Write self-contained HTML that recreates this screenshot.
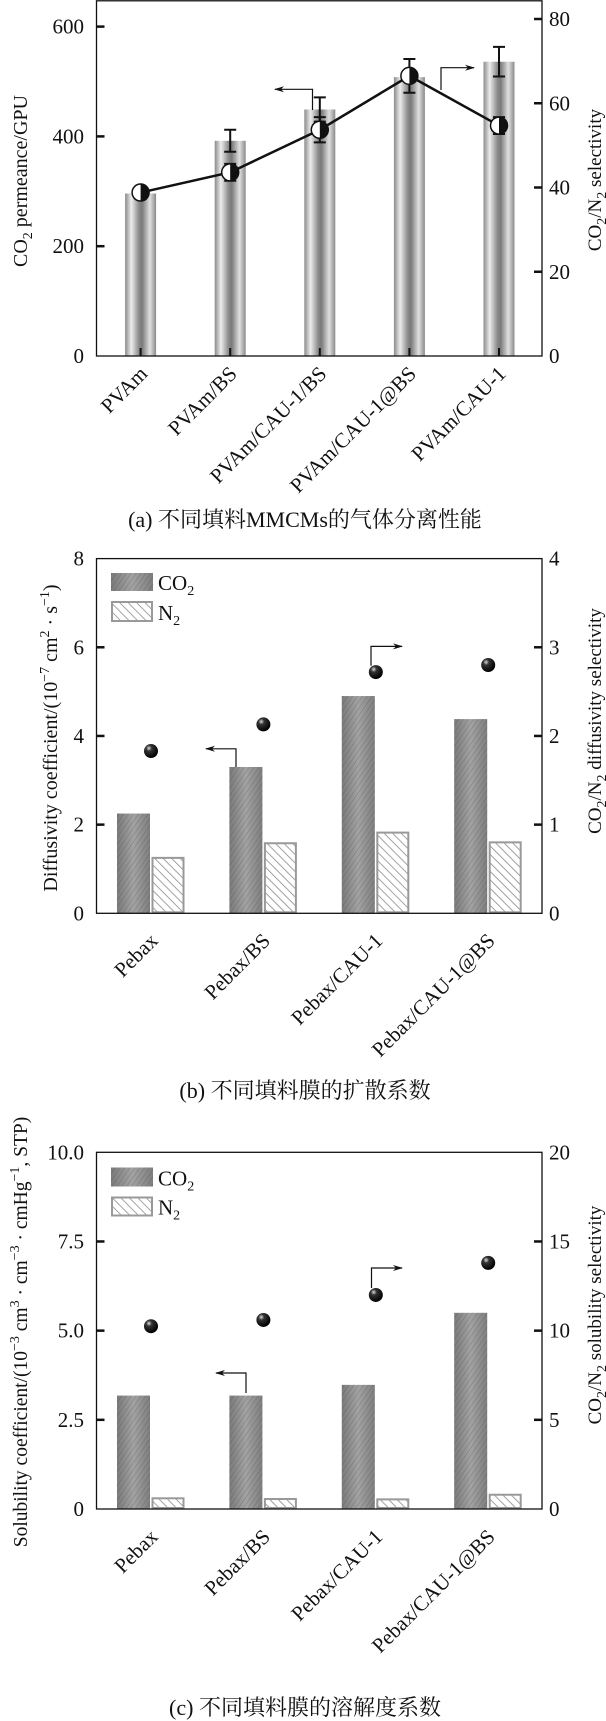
<!DOCTYPE html>
<html><head><meta charset="utf-8"><style>
html,body{margin:0;padding:0;background:#fff}
svg{display:block}
text{font-family:"Liberation Serif","Noto Serif CJK SC",serif;fill:#111}
</style></head><body>
<svg id="fig" width="606" height="1721" viewBox="0 0 606 1721" xmlns="http://www.w3.org/2000/svg">
<defs>
<linearGradient id="cyl" x1="0" x2="1" y1="0" y2="0">
<stop offset="0" stop-color="#8a8a8a"/><stop offset="0.2" stop-color="#ececec"/><stop offset="0.45" stop-color="#8a8a8a"/><stop offset="0.55" stop-color="#7a7a7a"/><stop offset="0.8" stop-color="#e0e0e0"/><stop offset="1" stop-color="#8a8a8a"/>
</linearGradient>
<linearGradient id="co2g" x1="0" x2="1" y1="0" y2="0">
<stop offset="0" stop-color="#7a7a7a"/><stop offset="0.5" stop-color="#a3a3a3"/><stop offset="1" stop-color="#7e7e7e"/>
</linearGradient>
<pattern id="fine" width="4" height="4" patternUnits="userSpaceOnUse" patternTransform="rotate(35)">
<line x1="0" y1="0" x2="0" y2="4" stroke="rgba(60,60,60,0.35)" stroke-width="1"/>
</pattern>
<pattern id="hatch" width="6" height="6" patternUnits="userSpaceOnUse" patternTransform="rotate(-45)">
<rect width="6" height="6" fill="#fff"/>
<line x1="0" y1="0" x2="0" y2="6" stroke="#8a8a8a" stroke-width="1.6"/>
</pattern>
<radialGradient id="ball" cx="0.35" cy="0.3" r="0.7">
<stop offset="0" stop-color="#ddd"/><stop offset="0.3" stop-color="#333"/><stop offset="1" stop-color="#000"/>
</radialGradient>
<marker id="ah" markerWidth="10" markerHeight="8" refX="9" refY="4" orient="auto" markerUnits="userSpaceOnUse">
<path d="M0,1 L10,4 L0,7 L3,4 Z" fill="#111"/>
</marker>
</defs>
</svg>
<script>
// ===== Chart (a) data =====
const catsA = ["PVAm","PVAm/BS","PVAm/CAU-1/BS","PVAm/CAU-1@BS","PVAm/CAU-1"];
const permA = [296, 392, 449, 508, 536];
const permErrA = [0, 20, 22, 0, 27];
const selA = [38.8, 43.6, 53.7, 66.5, 54.7];
const selErrA = [1.5, 2, 3, 4, 2];
const ticksAL = [0, 200, 400, 600];
const ticksAR = [0, 20, 40, 60, 80];
// ===== Chart (b) data =====
const catsB = ["Pebax","Pebax/BS","Pebax/CAU-1","Pebax/CAU-1@BS"];
const co2B = [2.25, 3.3, 4.9, 4.38];
const n2B = [1.25, 1.58, 1.82, 1.6];
const selB = [1.83, 2.13, 2.72, 2.8];
const ticksBL = [0, 2, 4, 6, 8];
const ticksBR = [0, 1, 2, 3, 4];
// ===== Chart (c) data =====
const catsC = ["Pebax","Pebax/BS","Pebax/CAU-1","Pebax/CAU-1@BS"];
const co2C = [3.18, 3.18, 3.48, 5.5];
const n2C = [0.3, 0.28, 0.27, 0.4];
const selC = [10.25, 10.6, 12.0, 13.8];
const ticksCL = ["0","2.5","5.0","7.5","10.0"];
const ticksCR = [0, 5, 10, 15, 20];

const svg = document.getElementById('fig');
const NS = "http://www.w3.org/2000/svg";
function mk(tag, attrs, parent){ const e=document.createElementNS(NS,tag); for(const k in attrs) e.setAttribute(k,attrs[k]); (parent||svg).appendChild(e); return e; }
const X0=96.5, X1=542;
const FS=21;

function frame(top,bottom,name){
  const r=mk('rect',{x:X0,y:top,width:X1-X0,height:bottom-top,fill:'none',stroke:'#111','stroke-width':1.3});
  
  
}
function ytick(y,label,side,name,showTick){
  if(showTick){
    const l=mk('line',side==='L'?{x1:X0,x2:X0+8,y1:y,y2:y,stroke:'#111','stroke-width':2.5}:{x1:X1-8,x2:X1,y1:y,y2:y,stroke:'#111','stroke-width':2.5});
    
    
  }
  const t=mk('text',side==='L'?{x:84,y:y+7,'text-anchor':'end','font-size':FS}:{x:549,y:y+7,'font-size':FS});
  t.textContent=label;
  
  
}
function xlabel(cx,y,label,name){
  const t=mk('text',{x:cx+8,y:y,'text-anchor':'end','font-size':FS,transform:`rotate(-45 ${cx+8} ${y})`});
  t.textContent=label;
  
  
}
function arrow(x,y0,y1,x2,name){
  const p=mk('path',{d:`M${x},${y0} L${x},${y1} L${x2},${y1}`,fill:'none',stroke:'#111','stroke-width':1.2,'marker-end':'url(#ah)'});
  
  
}
function vtitle(cx,cy,fs,html,name){
  const t=mk('text',{x:cx,y:cy,'text-anchor':'middle','font-size':fs,transform:`rotate(-90 ${cx} ${cy})`});
  t.innerHTML=html;
  
  
}
function caption(y,txt,name){
  const t=mk('text',{x:305,y:y,'text-anchor':'middle','font-size':22});
  t.textContent=txt;
  
  
}
function ball(cx,cy,name){
  const c=mk('circle',{cx:cx,cy:cy,r:7,fill:'url(#ball)'});
  
  
}
function errbar(x,yHi,yLo,name){
  const g=mk('path',{d:`M${x},${yHi} L${x},${yLo} M${x-6},${yHi} L${x+6},${yHi} M${x-6},${yLo} L${x+6},${yLo}`,stroke:'#111','stroke-width':2,fill:'none'});
  
  
}
const sub = s => `<tspan font-size="14" dy="5">${s}</tspan><tspan dy="-5">\u200b</tspan>`;
const sup = s => `<tspan font-size="14" dy="-8">${s}</tspan><tspan dy="8">\u200b</tspan>`;

// ===== Chart (a) =====
(function(){
  const top=0.8,bottom=356;
  const yL=v=>bottom-v*0.549, yR=v=>bottom-v*4.2125;
  const xs=i=>140.6+i*89.6;
  catsA.forEach((c,i)=>{
    const x=xs(i);
    const b=mk('rect',{x:x-15.5,y:yL(permA[i]),width:31,height:bottom-yL(permA[i]),fill:'url(#cyl)'});
    
    
    const tk=mk('line',{x1:x,x2:x,y1:bottom-8,y2:bottom,stroke:'#111','stroke-width':2});
    
    
    if(permErrA[i]>0) errbar(x,yL(permA[i]+permErrA[i]),yL(permA[i]-permErrA[i]),'permeance-error-bar');
    xlabel(x,375,c,'x-axis-label');
  });
  frame(top,bottom,'chart-a');
  ticksAL.forEach(v=>ytick(yL(v),String(v),'L','left-axis',v>0));
  ticksAR.forEach(v=>ytick(yR(v),String(v),'R','right-axis',v>0));
  const pts=selA.map((v,i)=>`${xs(i)},${yR(v)}`).join(' ');
  const pl=mk('polyline',{points:pts,fill:'none',stroke:'#111','stroke-width':2.5});
  
  
  selA.forEach((v,i)=>{
    const x=xs(i), y=yR(v);
    errbar(x,yR(v+selErrA[i]),yR(v-selErrA[i]),'selectivity-error-bar');
    const g=mk('g',{});
    
    
    mk('circle',{cx:x,cy:y,r:8.5,fill:'#fff',stroke:'#111','stroke-width':1.5},g);
    mk('path',{d:`M${x},${y-8.5} A8.5,8.5 0 0 1 ${x},${y+8.5} Z`,fill:'#111'},g);
  });
  arrow(312.5,110,89.3,275,'left-axis-arrow');
  arrow(441,90,67.7,474,'right-axis-arrow');
  vtitle(27,181,20,`CO${sub('2')} permeance/GPU`,'left-axis-title');
  vtitle(601,180,19,`CO${sub('2')}/N${sub('2')} selectivity`,'right-axis-title');
  caption(527,'(a) 不同填料MMCMs的气体分离性能','caption-a');
})();

function groupChart(opt){
  const {top,bottom,maxL,maxR,cats,co2,n2,sel,tL,tR,lblY,name}=opt;
  const yL=v=>bottom-v*(bottom-top)/maxL, yR=v=>bottom-v*(bottom-top)/maxR;
  const xs=i=>151+i*112.4;
  cats.forEach((c,i)=>{
    const x=xs(i);
    [['url(#co2g)',co2[i],'co2-bar'],['url(#fine)',co2[i],'co2-bar-texture']].forEach(([f,v,nm])=>{
      const r=mk('rect',{x:x-34,y:yL(v),width:33,height:bottom-yL(v),fill:f});
      
      
    });
    const n=mk('rect',{x:x+1.5,y:yL(n2[i]),width:31,height:bottom-yL(n2[i])-1,fill:'url(#hatch)',stroke:'#999','stroke-width':2});
    
    
    ball(x,yR(sel[i]),'selectivity-point');
    xlabel(x,lblY,c,'x-axis-label');
  });
  frame(top,bottom,name);
  tL.forEach(lab=>{const v=parseFloat(lab); ytick(yL(v),String(lab),'L','left-axis',v>0&&v<maxL);});
  tR.forEach(v=>ytick(yR(v),String(v),'R','right-axis',v>0&&v<maxR));
}
function legend(y1,h,y2,h2){
  const a=mk('rect',{x:111,y:y1,width:42,height:h,fill:'url(#co2g)'});
  
  
  mk('rect',{x:111,y:y1,width:42,height:h,fill:'url(#fine)'});
  const t=mk('text',{x:158,y:y1+h-1,'font-size':FS}); t.innerHTML=`CO${sub('2')}`;
  
  
  const b=mk('rect',{x:112,y:y2,width:40,height:h2,fill:'url(#hatch)',stroke:'#999','stroke-width':2});
  
  
  const t2=mk('text',{x:158,y:y2+h2-1,'font-size':FS}); t2.innerHTML=`N${sub('2')}`;
  
  
}

// ===== Chart (b) =====
groupChart({top:558.6,bottom:913.3,maxL:8,maxR:4,cats:catsB,co2:co2B,n2:n2B,sel:selB,tL:ticksBL,tR:ticksBR,lblY:942,name:'chart-b'});
legend(573,18,602,19);
arrow(236,767,748.8,206,'left-axis-arrow');
arrow(371,665.7,646.4,402,'right-axis-arrow');
vtitle(57,738,20,`Diffusivity coefficient/(10${sup('−7')} cm${sup('2')} · s${sup('−1')})`,'left-axis-title');
vtitle(601,721,19,`CO${sub('2')}/N${sub('2')} diffusivity selectivity`,'right-axis-title');
caption(1098,'(b) 不同填料膜的扩散系数','caption-b');

// ===== Chart (c) =====
groupChart({top:1152.3,bottom:1509,maxL:10,maxR:20,cats:catsC,co2:co2C,n2:n2C,sel:selC,tL:ticksCL,tR:ticksCR,lblY:1538,name:'chart-c'});
legend(1167.5,19,1197.5,18);
arrow(246,1393,1373,216,'left-axis-arrow');
arrow(371.5,1288,1268,402,'right-axis-arrow');
vtitle(27,1332,19.5,`Solubility coefficient/(10${sup('−3')} cm${sup('3')} · cm${sup('−3')} · cmHg${sup('−1')}, STP)`,'left-axis-title');
vtitle(601,1315,19,`CO${sub('2')}/N${sub('2')} solubility selectivity`,'right-axis-title');
caption(1715,'(c) 不同填料膜的溶解度系数','caption-c');
</script>
</body></html>
